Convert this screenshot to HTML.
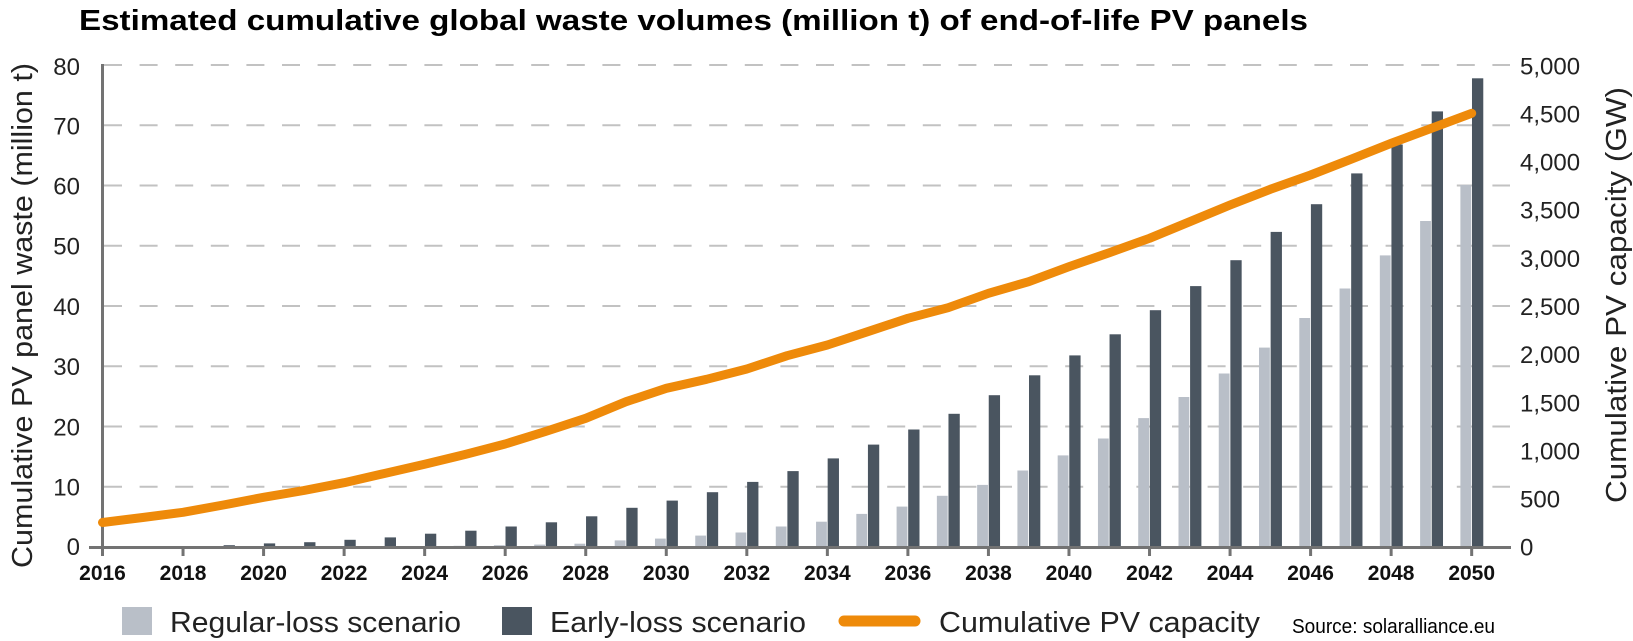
<!DOCTYPE html>
<html>
<head>
<meta charset="utf-8">
<style>
  html, body { margin: 0; padding: 0; background: #ffffff; }
  body { width: 1633px; height: 641px; overflow: hidden; }
  svg { display: block; }
  text { font-family: "Liberation Sans", "DejaVu Sans", sans-serif; }
</style>
</head>
<body>
<svg width="1633" height="641" viewBox="0 0 1633 641" xmlns="http://www.w3.org/2000/svg">
  <rect x="0" y="0" width="1633" height="641" fill="#ffffff"/>

  <!-- Title -->
  <text x="79" y="30" font-size="29" font-weight="bold" fill="#000" textLength="1229" lengthAdjust="spacingAndGlyphs">Estimated cumulative global waste volumes (million t) of end-of-life PV panels</text>

  <!-- Gridlines -->
  <g stroke="#c2c2c2" stroke-width="2" stroke-dasharray="18 17.6" fill="none">
    <line x1="104" y1="65" x2="1510" y2="65"/>
    <line x1="104" y1="125.25" x2="1510" y2="125.25"/>
    <line x1="104" y1="185.5" x2="1510" y2="185.5"/>
    <line x1="104" y1="245.75" x2="1510" y2="245.75"/>
    <line x1="104" y1="306" x2="1510" y2="306"/>
    <line x1="104" y1="366.25" x2="1510" y2="366.25"/>
    <line x1="104" y1="426.5" x2="1510" y2="426.5"/>
    <line x1="104" y1="486.75" x2="1510" y2="486.75"/>
  </g>

  <!-- Light bars (regular-loss) -->
  <g fill="#b9bfc8">
    <rect x="453.63" y="545.8" width="10.8" height="1.2"/>
    <rect x="493.9" y="545.2" width="10.8" height="1.8"/>
    <rect x="534.17" y="544.6" width="10.8" height="2.4"/>
    <rect x="574.44" y="543.7" width="10.8" height="3.3"/>
    <rect x="614.71" y="540.4" width="10.8" height="6.6"/>
    <rect x="654.98" y="538.6" width="10.8" height="8.4"/>
    <rect x="695.25" y="535.6" width="10.8" height="11.4"/>
    <rect x="735.52" y="532.5" width="10.8" height="14.5"/>
    <rect x="775.79" y="526.5" width="10.8" height="20.5"/>
    <rect x="816.06" y="521.7" width="10.8" height="25.3"/>
    <rect x="856.33" y="513.9" width="10.8" height="33.1"/>
    <rect x="896.6" y="506.6" width="10.8" height="40.4"/>
    <rect x="936.87" y="495.8" width="10.8" height="51.2"/>
    <rect x="977.14" y="484.9" width="10.8" height="62.1"/>
    <rect x="1017.41" y="470.5" width="10.8" height="76.5"/>
    <rect x="1057.68" y="455.4" width="10.8" height="91.6"/>
    <rect x="1097.95" y="438.5" width="10.8" height="108.5"/>
    <rect x="1138.22" y="418.1" width="10.8" height="128.9"/>
    <rect x="1178.49" y="397" width="10.8" height="150"/>
    <rect x="1218.76" y="373.5" width="10.8" height="173.5"/>
    <rect x="1259.03" y="347.6" width="10.8" height="199.4"/>
    <rect x="1299.3" y="318" width="10.8" height="229"/>
    <rect x="1339.57" y="288.5" width="10.8" height="258.5"/>
    <rect x="1379.84" y="255.4" width="10.8" height="291.6"/>
    <rect x="1420.11" y="221" width="10.8" height="326"/>
    <rect x="1460.38" y="184.9" width="10.8" height="362.1"/>
  </g>

  <!-- Dark bars (early-loss) -->
  <g fill="#4a5560">
    <rect x="143.07" y="546.4" width="11.3" height="0.6"/>
    <rect x="183.34" y="546.1" width="11.3" height="0.9"/>
    <rect x="223.61" y="545.2" width="11.3" height="1.8"/>
    <rect x="263.88" y="543.4" width="11.3" height="3.6"/>
    <rect x="304.15" y="542.2" width="11.3" height="4.8"/>
    <rect x="344.42" y="539.8" width="11.3" height="7.2"/>
    <rect x="384.69" y="537.4" width="11.3" height="9.6"/>
    <rect x="424.96" y="533.7" width="11.3" height="13.3"/>
    <rect x="465.23" y="530.7" width="11.3" height="16.3"/>
    <rect x="505.5" y="526.5" width="11.3" height="20.5"/>
    <rect x="545.77" y="522.3" width="11.3" height="24.7"/>
    <rect x="586.04" y="516.3" width="11.3" height="30.7"/>
    <rect x="626.31" y="507.8" width="11.3" height="39.2"/>
    <rect x="666.58" y="500.6" width="11.3" height="46.4"/>
    <rect x="706.85" y="492.2" width="11.3" height="54.8"/>
    <rect x="747.12" y="481.9" width="11.3" height="65.1"/>
    <rect x="787.39" y="471.1" width="11.3" height="75.9"/>
    <rect x="827.66" y="458.4" width="11.3" height="88.6"/>
    <rect x="867.93" y="444.6" width="11.3" height="102.4"/>
    <rect x="908.2" y="429.5" width="11.3" height="117.5"/>
    <rect x="948.47" y="413.8" width="11.3" height="133.2"/>
    <rect x="988.74" y="395.2" width="11.3" height="151.8"/>
    <rect x="1029.01" y="375.3" width="11.3" height="171.7"/>
    <rect x="1069.28" y="355.4" width="11.3" height="191.6"/>
    <rect x="1109.55" y="334.3" width="11.3" height="212.7"/>
    <rect x="1149.82" y="310.2" width="11.3" height="236.8"/>
    <rect x="1190.09" y="286.1" width="11.3" height="260.9"/>
    <rect x="1230.36" y="260.2" width="11.3" height="286.8"/>
    <rect x="1270.63" y="231.9" width="11.3" height="315.1"/>
    <rect x="1310.9" y="204.2" width="11.3" height="342.8"/>
    <rect x="1351.17" y="173.4" width="11.3" height="373.6"/>
    <rect x="1391.44" y="144.5" width="11.3" height="402.5"/>
    <rect x="1431.71" y="111.4" width="11.3" height="435.6"/>
    <rect x="1471.98" y="78.3" width="11.3" height="468.7"/>
  </g>

  <!-- Axes -->
  <line x1="89" y1="547.5" x2="1511" y2="547.5" stroke="#737373" stroke-width="3"/>
  <line x1="102.5" y1="64" x2="102.5" y2="556" stroke="#737373" stroke-width="3"/>
  <g stroke="#737373" stroke-width="3">
    <line x1="183.04" y1="547" x2="183.04" y2="556"/>
    <line x1="263.58" y1="547" x2="263.58" y2="556"/>
    <line x1="344.12" y1="547" x2="344.12" y2="556"/>
    <line x1="424.66" y1="547" x2="424.66" y2="556"/>
    <line x1="505.2" y1="547" x2="505.2" y2="556"/>
    <line x1="585.74" y1="547" x2="585.74" y2="556"/>
    <line x1="666.28" y1="547" x2="666.28" y2="556"/>
    <line x1="746.82" y1="547" x2="746.82" y2="556"/>
    <line x1="827.36" y1="547" x2="827.36" y2="556"/>
    <line x1="907.9" y1="547" x2="907.9" y2="556"/>
    <line x1="988.44" y1="547" x2="988.44" y2="556"/>
    <line x1="1068.98" y1="547" x2="1068.98" y2="556"/>
    <line x1="1149.52" y1="547" x2="1149.52" y2="556"/>
    <line x1="1230.06" y1="547" x2="1230.06" y2="556"/>
    <line x1="1310.6" y1="547" x2="1310.6" y2="556"/>
    <line x1="1391.14" y1="547" x2="1391.14" y2="556"/>
    <line x1="1471.68" y1="547" x2="1471.68" y2="556"/>
  </g>

  <!-- Capacity line -->
  <polyline fill="none" stroke="#ee8a0a" stroke-width="9" stroke-linecap="round" stroke-linejoin="round"
    points="102.5,522.5 142.77,517.5 183.04,512.3 223.31,505 263.58,497.3 303.85,490.5 344.12,482.7 384.39,473.5 424.66,464.3 464.93,454.5 505.2,444 545.47,431.5 585.74,418.3 626.01,401.7 666.28,388.3 706.55,379.3 746.82,369 787.09,355.7 827.36,345 867.63,331.7 907.9,318.3 948.17,307.7 988.44,293.3 1028.71,281.7 1068.98,266.7 1109.25,252.7 1149.52,238.3 1189.79,221.7 1230.06,205 1270.33,189.3 1310.6,175 1350.87,159.3 1391.14,143.3 1431.41,128.3 1471.68,113.3"/>

  <!-- Left tick labels -->
  <g font-size="24" fill="#222" text-anchor="end">
    <text x="80" y="75">80</text>
    <text x="80" y="134.5">70</text>
    <text x="80" y="194.5">60</text>
    <text x="80" y="254.5">50</text>
    <text x="80" y="315">40</text>
    <text x="80" y="375">30</text>
    <text x="80" y="435.5">20</text>
    <text x="80" y="495.5">10</text>
    <text x="80" y="555">0</text>
  </g>

  <!-- Right tick labels (500 GW per 48.2px) -->
  <g font-size="24" fill="#222" text-anchor="start">
    <text x="1520" y="74.5">5,000</text>
    <text x="1520" y="122.5">4,500</text>
    <text x="1520" y="170.5">4,000</text>
    <text x="1520" y="218.5">3,500</text>
    <text x="1520" y="267">3,000</text>
    <text x="1520" y="315">2,500</text>
    <text x="1520" y="363">2,000</text>
    <text x="1520" y="411.5">1,500</text>
    <text x="1520" y="459.5">1,000</text>
    <text x="1520" y="507.5">500</text>
    <text x="1520" y="555.5">0</text>
  </g>

  <!-- X labels -->
  <g font-size="21" font-weight="bold" fill="#111" text-anchor="middle">
    <text x="102.5" y="580">2016</text>
    <text x="183.04" y="580">2018</text>
    <text x="263.58" y="580">2020</text>
    <text x="344.12" y="580">2022</text>
    <text x="424.66" y="580">2024</text>
    <text x="505.2" y="580">2026</text>
    <text x="585.74" y="580">2028</text>
    <text x="666.28" y="580">2030</text>
    <text x="746.82" y="580">2032</text>
    <text x="827.36" y="580">2034</text>
    <text x="907.9" y="580">2036</text>
    <text x="988.44" y="580">2038</text>
    <text x="1068.98" y="580">2040</text>
    <text x="1149.52" y="580">2042</text>
    <text x="1230.06" y="580">2044</text>
    <text x="1310.6" y="580">2046</text>
    <text x="1391.14" y="580">2048</text>
    <text x="1471.68" y="580">2050</text>
  </g>

  <!-- Axis titles -->
  <text transform="translate(32,315.5) rotate(-90)" text-anchor="middle" font-size="29" fill="#222" textLength="505" lengthAdjust="spacingAndGlyphs">Cumulative PV panel waste (million t)</text>
  <text transform="translate(1626,295) rotate(-90)" text-anchor="middle" font-size="29" fill="#222" textLength="416" lengthAdjust="spacingAndGlyphs">Cumulative PV capacity (GW)</text>

  <!-- Legend -->
  <rect x="122" y="607" width="30" height="28" fill="#b9bfc8"/>
  <text x="170" y="632" font-size="29" fill="#222" textLength="291" lengthAdjust="spacingAndGlyphs">Regular-loss scenario</text>
  <rect x="502" y="607" width="30" height="28" fill="#4a5560"/>
  <text x="550" y="632" font-size="29" fill="#222" textLength="256" lengthAdjust="spacingAndGlyphs">Early-loss scenario</text>
  <line x1="844" y1="621" x2="915" y2="621" stroke="#ee8a0a" stroke-width="11" stroke-linecap="round"/>
  <text x="939" y="632" font-size="29" fill="#222" textLength="321" lengthAdjust="spacingAndGlyphs">Cumulative PV capacity</text>
  <text x="1292" y="633" font-size="20" fill="#000" textLength="203" lengthAdjust="spacingAndGlyphs">Source: solaralliance.eu</text>
</svg>
</body>
</html>
